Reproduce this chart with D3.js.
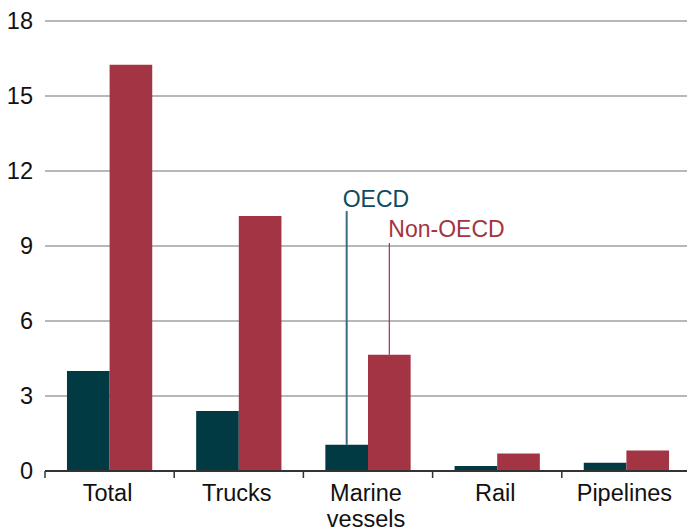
<!DOCTYPE html>
<html>
<head>
<meta charset="utf-8">
<script src="https://cdn.jsdelivr.net/npm/d3@7/dist/d3.min.js"></script>
<style>
  body { margin: 0; background: #fff; }
  svg text { font-family: "Liberation Sans", Arial, sans-serif; }
</style>
</head>
<body>
<div id="chart"></div>
<script>
// data
var categories = ["Total", "Trucks", "Marine vessels", "Rail", "Pipelines"];
var series = ["OECD", "Non-OECD"];
var oecd = [4.0, 2.4, 1.05, 0.2, 0.33];
var nonOecd = [16.25, 10.2, 4.65, 0.7, 0.82];
var yTicks = [0, 3, 6, 9, 12, 15, 18];

var colors = {"OECD": "#023a44", "Non-OECD": "#a33443"};

var width = 687, height = 529;

var svg = d3.select("#chart")
  .append("svg")
  .attr("width", width)
  .attr("height", height);

var y = d3.scaleLinear()
  .domain([0, 18])
  .range([471, 21]);

var x0 = d3.scaleBand()
  .domain(categories)
  .range([45, 691])
  .paddingInner(0.34)
  .paddingOuter(0.17);

var x1 = d3.scaleBand()
  .domain(series)
  .range([0, x0.bandwidth()]);

// gridlines + y labels
var yAxis = d3.axisLeft(y)
  .tickValues(yTicks)
  .tickSize(0)
  .tickPadding(12);

var gy = svg.append("g")
  .attr("transform", "translate(45,0)")
  .call(yAxis);
gy.select(".domain").remove();
gy.selectAll("text")
  .style("font-size", "23.5px")
  .attr("fill", "#111");

svg.append("g")
  .selectAll("line")
  .data(yTicks.filter(function(d){ return d > 0; }))
  .enter()
  .append("line")
    .attr("x1", 45)
    .attr("x2", width)
    .attr("y1", function(d){ return y(d); })
    .attr("y2", function(d){ return y(d); })
    .style("stroke", "#a0a0a0")
    .style("stroke-width", 1.3);

// bars
var rows = categories.map(function(c, i){
  return {cat: c, values: [{s: "OECD", v: oecd[i]}, {s: "Non-OECD", v: nonOecd[i]}]};
});

var groups = svg.append("g")
  .selectAll("g")
  .data(rows)
  .enter()
  .append("g")
    .attr("transform", function(d){ return "translate(" + x0(d.cat) + ",0)"; });

groups.selectAll("rect")
  .data(function(d){ return d.values; })
  .enter()
  .append("rect")
    .attr("x", function(d){ return x1(d.s); })
    .attr("width", x1.bandwidth())
    .attr("y", function(d){ return y(d.v); })
    .attr("height", function(d){ return y(0) - y(d.v); })
    .attr("fill", function(d){ return colors[d.s]; });

// x axis line and ticks between groups
svg.append("line")
  .attr("x1", 45).attr("x2", width)
  .attr("y1", y(0)).attr("y2", y(0))
  .style("stroke", "#333")
  .style("stroke-width", 2);

var step = x0.step();
svg.append("g")
  .selectAll("line")
  .data(d3.range(categories.length + 1))
  .enter()
  .append("line")
    .attr("x1", function(i){ return 45 + step * i; })
    .attr("x2", function(i){ return 45 + step * i; })
    .attr("y1", y(0))
    .attr("y2", y(0) + 7)
    .style("stroke", "#333")
    .style("stroke-width", 1.5);

// category labels
var labels = svg.append("g")
  .selectAll("text")
  .data(categories)
  .enter()
  .append("text")
    .attr("x", function(d){ return x0(d) + x0.bandwidth() / 2 - 2; })
    .attr("y", 501)
    .attr("text-anchor", "middle")
    .style("font-size", "23.5px")
    .attr("fill", "#111");

labels.each(function(d){
  var words = d === "Marine vessels" ? ["Marine", "vessels"] : [d];
  var t = d3.select(this);
  words.forEach(function(w, i){
    t.append("tspan")
      .attr("x", t.attr("x"))
      .attr("dy", i === 0 ? 0 : 26)
      .text(w);
  });
});

// series labels with leader lines on the Marine vessels bars
var mi = categories.indexOf("Marine vessels");
var ox = x0(categories[mi]) + x1("OECD") + x1.bandwidth() / 2;
var nx = x0(categories[mi]) + x1("Non-OECD") + x1.bandwidth() / 2;

svg.append("line")
  .attr("x1", ox).attr("x2", ox)
  .attr("y1", y(10.4)).attr("y2", y(oecd[mi]))
  .style("stroke", "#3b6b80")
  .style("stroke-width", 2);
svg.append("text")
  .attr("x", ox - 4)
  .attr("y", y(10.56))
  .style("font-size", "23px")
  .attr("fill", "#0f4a60")
  .text("OECD");

svg.append("line")
  .attr("x1", nx).attr("x2", nx)
  .attr("y1", y(9.12)).attr("y2", y(nonOecd[mi]))
  .style("stroke", "#a33443")
  .style("stroke-width", 1.2);
svg.append("text")
  .attr("x", nx - 1)
  .attr("y", y(9.36))
  .style("font-size", "23px")
  .attr("fill", "#a33443")
  .text("Non-OECD");
</script>
</body>
</html>
